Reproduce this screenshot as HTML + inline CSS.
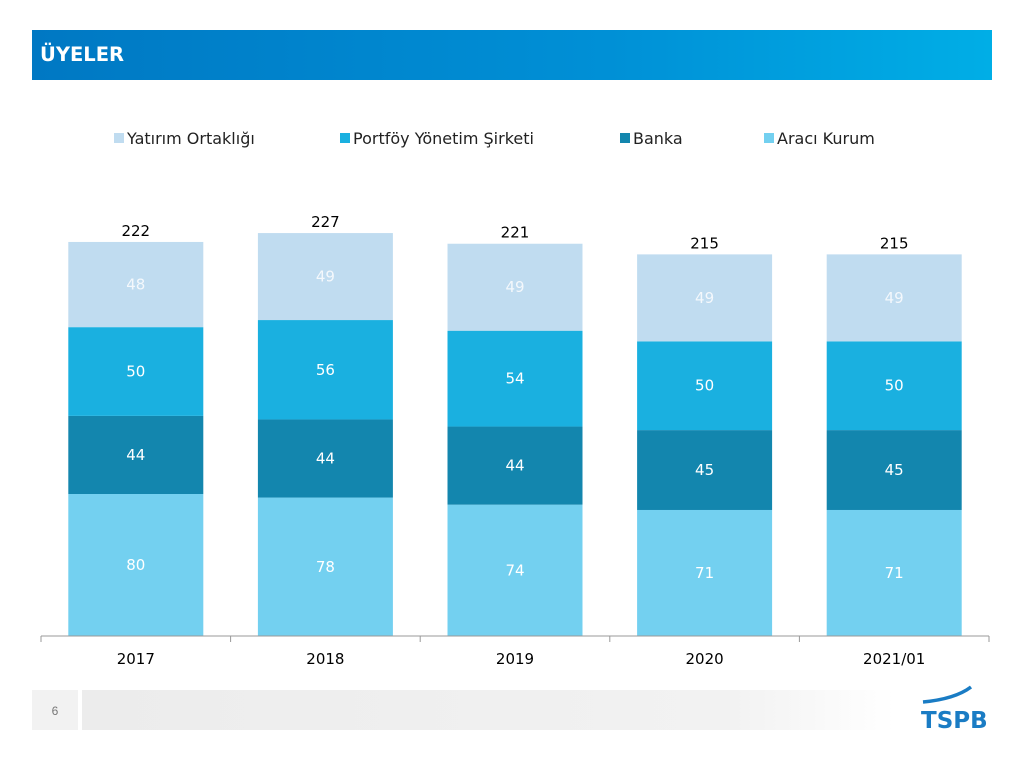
<!DOCTYPE html>
<html><head><meta charset="utf-8"><style>
body{margin:0;width:1024px;height:768px;background:#fff;font-family:"Liberation Sans","DejaVu Sans",sans-serif;position:relative;overflow:hidden}
#hdr{position:absolute;left:32px;top:30px;width:960px;height:50px;background:linear-gradient(90deg,#0078c3,#0090d6 60%,#00aee6)}
#hdr span{position:absolute;left:8px;top:13px;color:#fff;font:bold 19.5px "DejaVu Sans",sans-serif}
#pg{position:absolute;left:32px;top:690px;width:46px;height:40px;background:#f2f2f2;color:#777;font-size:12px;text-align:center;line-height:42px}
#bar2{position:absolute;left:82px;top:690px;width:813px;height:40px;background:linear-gradient(90deg,#ececec,#f2f2f2 80%,#fff)}
</style></head><body>
<div id="hdr"><span>ÜYELER</span></div>
<svg id="chart" width="1024" height="768" style="position:absolute;left:0;top:0"></svg>
<div id="pg">6</div>
<div id="bar2"></div>
<svg style="position:absolute;left:915px;top:685px" width="80" height="50">
<path d="M8 17 Q40 14 56 2" stroke="#1a7cc4" stroke-width="3.5" fill="none"/>
<text x="6" y="43" font-family="DejaVu Sans,sans-serif" font-weight="bold" font-size="23" fill="#1a7cc4">TSPB</text>
</svg>
<script>
const categories=["2017","2018","2019","2020","2021/01"];
const aracı=[80,78,74,71,71];
const banka=[44,44,44,45,45];
const portfoy=[50,56,54,50,50];
const yatirim=[48,49,49,49,49];
const totals=[222,227,221,215,215];
const seriesNames=["Yatırım Ortaklığı","Portföy Yönetim Şirketi","Banka","Aracı Kurum"];
const colors=["#c0dcf0","#1ab0e0","#1386ae","#73d0f0"];
const NS="http://www.w3.org/2000/svg";
const svg=document.getElementById('chart');
const x0=41,x1=989,base=636,scale=1.775;
const band=(x1-x0)/categories.length,bw=135;
const xs=i=>x0+band*i+(band-bw)/2;
const ys=v=>base-v*scale;
function mk(t,a){const e=document.createElementNS(NS,t);for(const k in a)e.setAttribute(k,a[k]);svg.appendChild(e);return e;}
const stack=[aracı,banka,portfoy,yatirim];
const scol=[colors[3],colors[2],colors[1],colors[0]];
const snames=["araci-kurum","banka","portfoy","yatirim"];
categories.forEach((c,i)=>{
 let cum=0;
 stack.forEach((s,k)=>{
  const r=mk('rect',{x:xs(i),y:ys(cum+s[i]),width:bw,height:s[i]*scale,fill:scol[k]});
  
  
  const t=mk('text',{x:xs(i)+bw/2,y:ys(cum+s[i]/2)+5,'text-anchor':'middle','font-size':15,fill:k==3?'#f4f8fc':'#fff','font-family':'DejaVu Sans,sans-serif'});
  t.textContent=s[i];
  
  
  cum+=s[i];
 });
 const tt=mk('text',{x:xs(i)+bw/2,y:ys(totals[i])-6,'text-anchor':'middle','font-size':15,fill:'#000','font-family':'DejaVu Sans,sans-serif'});
 tt.textContent=totals[i];
 
 
 const cl=mk('text',{x:x0+band*i+band/2,y:664,'text-anchor':'middle','font-size':15,fill:'#000','font-family':'DejaVu Sans,sans-serif'});
 cl.textContent=c;
 
 
});
const ax=mk('line',{x1:x0,x2:x1,y1:base,y2:base,stroke:'#999'});


for(let i=0;i<=categories.length;i++){
 const tk=mk('line',{x1:x0+band*i,x2:x0+band*i,y1:base,y2:base+6,stroke:'#999'});
 
 
}
const lx=[114,340,620,764];
seriesNames.forEach((n,k)=>{
 const r=mk('rect',{x:lx[k],y:133,width:10,height:10,fill:colors[k]});
 
 
 const t=mk('text',{x:lx[k]+13,y:144,'font-size':16,fill:'#222','font-family':'DejaVu Sans,sans-serif'});
 t.textContent=n;
 
 
});
</script>
</body></html>
